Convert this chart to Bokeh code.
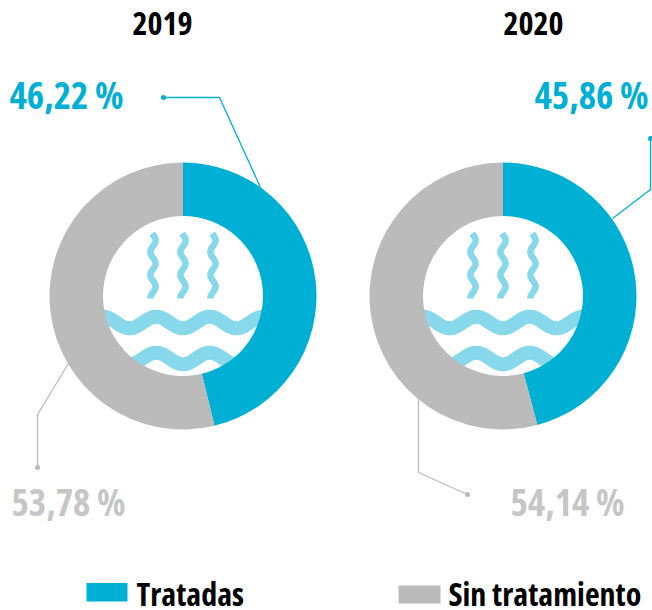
import numpy as np
from bokeh.plotting import figure
from bokeh.models import Range1d, InlineStyleSheet
from bokeh.core.properties import value
from bokeh.embed import file_html
from bokeh.resources import INLINE

years = ["2019", "2020"]
series = ["Tratadas", "Sin tratamiento"]
tratadas = [46.22, 45.86]
sin_tratamiento = [53.78, 54.14]

BLUE, GRAY, WAVE, GRAY_TXT = "#00afd4", "#bbbbbb", "#86d8ea", "#c6c6c6"
FONT = value("Open Sans")
W, H = 652, 610


def Y(py):
    return H - py


p = figure(width=W, height=H, output_backend="svg", toolbar_location=None,
           x_range=Range1d(0, W), y_range=Range1d(0, H),
           min_border=0, outline_line_color=None, background_fill_color="white")
p.axis.visible = False
p.grid.visible = False
p.stylesheets = [InlineStyleSheet(css=":host{font-stretch:75%}")]

centers = [182.5, 502.5]
R_OUT, R_IN, CY = 133.5, 80, 295.5

for cx in centers:
    # decorative icon, drawn under the ring so the ring trims it
    xs = np.linspace(cx - 95, cx + 95, 240)
    for yc in (322, 358):
        ys = yc + 5.8 * np.cos(2 * np.pi * (xs - cx) / 53.5)
        p.line(xs, Y(ys), line_color=WAVE, line_width=14, line_join="round")
    yy = np.linspace(233, 298, 80)
    for off in (-30, 0, 30):
        xx = cx + off + 2.6 * np.cos(2 * np.pi * (yy - 240) / 23)
        p.line(xx, Y(yy), line_color=WAVE, line_width=6.5, line_join="round")

for cx, a, b in zip(centers, tratadas, sin_tratamiento):
    split = np.pi / 2 - 2 * np.pi * a / (a + b)
    p.annular_wedge(x=cx, y=Y(CY), inner_radius=R_IN, outer_radius=R_OUT,
                    start_angle=split, end_angle=np.pi / 2, fill_color=BLUE, line_color=None)
    p.annular_wedge(x=cx, y=Y(CY), inner_radius=R_IN, outer_radius=R_OUT,
                    start_angle=np.pi / 2, end_angle=split, fill_color=GRAY, line_color=None)

leaders = [
    ([163, 219, 260], [97, 97, 187], BLUE),
    ([650, 650, 612], [138, 189, 218], BLUE),
    ([37, 37, 68], [467, 414, 363], GRAY),
    ([467, 418, 418], [494, 472, 395], GRAY),
]
for lx, ly, c in leaders:
    p.line(lx, [Y(v) for v in ly], line_color=c, line_width=1.3)
    p.scatter([lx[0]], [Y(ly[0])], size=5, fill_color=c, line_color=None)


def fmt(v):
    return f"{v:.2f}".replace(".", ",") + " %"


def label(x, y, t, size, color):
    # the browser sets this font about 0.39 em below the requested baseline
    p.text([x], [Y(y - 0.39 * size)], text=[t], text_font=FONT, text_font_style="bold",
           text_font_size=f"{size}px", text_color=color, text_align="left",
           text_baseline="alphabetic")


for x, t in zip([132, 503], years):
    label(x, 35, t, 32, "#000000")

label(9, 108, fmt(tratadas[0]), 37, BLUE)
label(534, 108, fmt(tratadas[1]), 37, BLUE)
label(11, 515, fmt(sin_tratamiento[0]), 37, GRAY_TXT)
label(510, 515, fmt(sin_tratamiento[1]), 37, GRAY_TXT)

p.quad(left=[86], right=[127], top=[Y(582.5)], bottom=[Y(601)], fill_color=BLUE, line_color=None)
p.quad(left=[398], right=[440], top=[Y(585)], bottom=[Y(603)], fill_color=GRAY, line_color=None)
label(136, 605.5, series[0], 32, "#000000")
label(448, 605.5, series[1], 32, "#000000")

html = file_html(p, INLINE).replace(
    "</head>", "<style>html,body{margin:0;padding:0;overflow:hidden}</style></head>", 1)
open("out.html", "w").write(html)
